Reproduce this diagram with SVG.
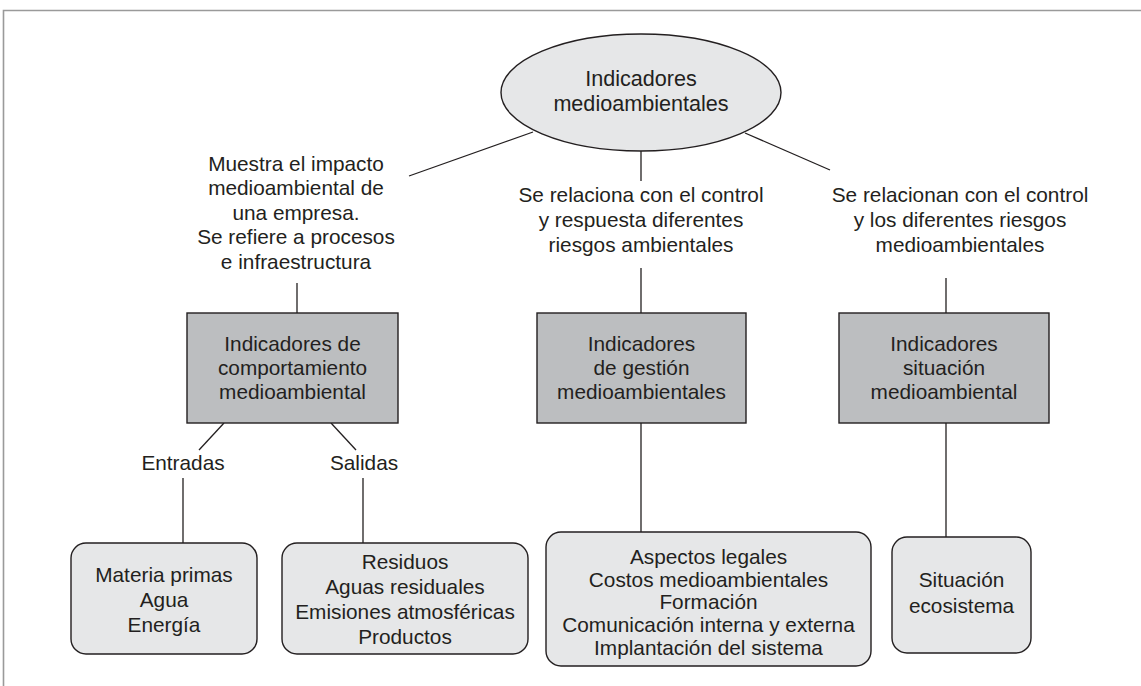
<svg xmlns="http://www.w3.org/2000/svg" width="1141" height="686" viewBox="0 0 1141 686">
<style>
text{font-family:"Liberation Sans",Arial,sans-serif;font-size:20.8px;fill:#231f20;text-anchor:middle}
.big{font-size:21.6px}
.ln{stroke:#231f20;stroke-width:1.3;fill:none}
.frame{stroke:#9a9a9a;stroke-width:1.6;fill:none}
.ell{fill:#e6e7e8;stroke:#231f20;stroke-width:1.4}
.dark{fill:#bcbec0;stroke:#231f20;stroke-width:1.4}
.light{fill:#e6e7e8;stroke:#231f20;stroke-width:1.4}
</style>
<rect width="1141" height="686" fill="#fff"/>
<path class="frame" d="M3.5 686 V10.5 H1141"/>
<g id="connectors">
<line class="ln" x1="533" y1="132" x2="409" y2="176"/>
<line class="ln" x1="641" y1="151" x2="641" y2="181"/>
<line class="ln" x1="745" y1="133" x2="830" y2="170"/>
<line class="ln" x1="297" y1="283" x2="297" y2="313"/>
<line class="ln" x1="641" y1="268" x2="641" y2="313"/>
<line class="ln" x1="946" y1="278" x2="946" y2="313"/>
<line class="ln" x1="224" y1="423" x2="199" y2="450"/>
<line class="ln" x1="331" y1="423" x2="356" y2="450"/>
<line class="ln" x1="183" y1="478" x2="183" y2="543"/>
<line class="ln" x1="363" y1="478" x2="363" y2="543"/>
<line class="ln" x1="641" y1="423" x2="641" y2="532"/>
<line class="ln" x1="946" y1="423" x2="946" y2="537"/>
</g>
<g id="root">
<ellipse class="ell" cx="641" cy="92.5" rx="140" ry="58.5"/>
<text class="big" x="641" y="86">Indicadores</text>
<text class="big" x="641" y="111">medioambientales</text>
</g>
<g id="label-left">
<text x="296" y="171">Muestra el impacto</text>
<text x="296" y="195">medioambiental de</text>
<text x="296" y="220">una empresa.</text>
<text x="296" y="244">Se refiere a procesos</text>
<text x="296" y="269">e infraestructura</text>
</g>
<g id="label-mid">
<text x="641" y="202">Se relaciona con el control</text>
<text x="641" y="227">y respuesta diferentes</text>
<text x="641" y="252">riesgos ambientales</text>
</g>
<g id="label-right">
<text x="960" y="202">Se relacionan con el control</text>
<text x="960" y="227">y los diferentes riesgos</text>
<text x="960" y="252">medioambientales</text>
</g>
<g id="box-comportamiento">
<rect class="dark" x="187" y="313" width="211" height="110"/>
<text x="292.5" y="351">Indicadores de</text>
<text x="292.5" y="375">comportamiento</text>
<text x="292.5" y="399">medioambiental</text>
</g>
<g id="box-gestion">
<rect class="dark" x="537" y="313" width="209" height="110"/>
<text x="641.5" y="351">Indicadores</text>
<text x="641.5" y="375">de gestión</text>
<text x="641.5" y="399">medioambientales</text>
</g>
<g id="box-situacion">
<rect class="dark" x="839" y="313" width="210" height="110"/>
<text x="944" y="351">Indicadores</text>
<text x="944" y="375">situación</text>
<text x="944" y="399">medioambiental</text>
</g>
<g id="label-entradas"><text x="183" y="470">Entradas</text></g>
<g id="label-salidas"><text x="364" y="470">Salidas</text></g>
<g id="box-entradas">
<rect class="light" x="71" y="543" width="186" height="111" rx="15"/>
<text x="164" y="582">Materia primas</text>
<text x="164" y="607">Agua</text>
<text x="164" y="632">Energía</text>
</g>
<g id="box-salidas">
<rect class="light" x="282" y="543" width="246" height="111" rx="15"/>
<text x="405" y="569">Residuos</text>
<text x="405" y="594">Aguas residuales</text>
<text x="405" y="619">Emisiones atmosféricas</text>
<text x="405" y="644">Productos</text>
</g>
<g id="box-aspectos">
<rect class="light" x="546" y="532" width="325" height="134" rx="15"/>
<text x="708.5" y="564">Aspectos legales</text>
<text x="708.5" y="587">Costos medioambientales</text>
<text x="708.5" y="609">Formación</text>
<text x="708.5" y="632">Comunicación interna y externa</text>
<text x="708.5" y="655">Implantación del sistema</text>
</g>
<g id="box-ecosistema">
<rect class="light" x="892" y="537" width="139" height="116" rx="15"/>
<text x="961.5" y="587">Situación</text>
<text x="961.5" y="613">ecosistema</text>
</g>
</svg>
